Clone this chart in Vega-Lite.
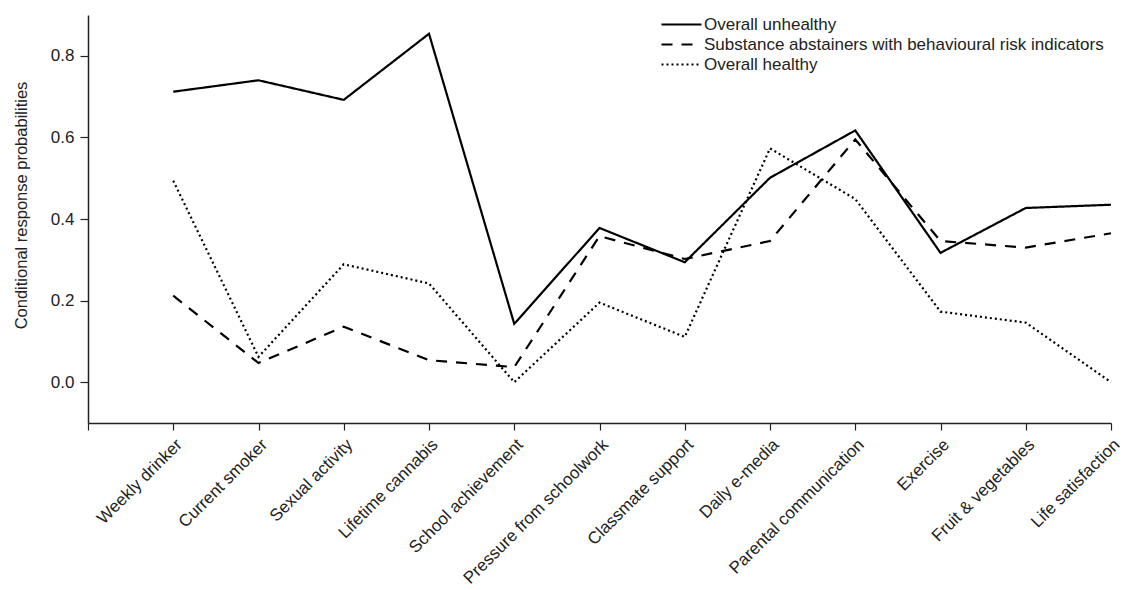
{
  "$schema": "https://vega.github.io/schema/vega-lite/v6.json",
  "autosize": {"type": "none"},
  "width": 1023,
  "height": 408,
  "padding": {"left": 88, "top": 15, "right": 18, "bottom": 167},
  "background": "white",
  "config": {
    "view": {"stroke": null},
    "font": "Liberation Sans",
    "axis": {"grid": false, "domainColor": "#222", "tickColor": "#222", "labelColor": "#222", "titleColor": "#222", "domainWidth": 1.5, "tickWidth": 1.2, "labelFont": "Liberation Sans", "titleFont": "Liberation Sans"}
  },
  "data": {"values": [
    {"item": "Weekly drinker", "cls": "Overall unhealthy", "p": 0.712},
    {"item": "Current smoker", "cls": "Overall unhealthy", "p": 0.740},
    {"item": "Sexual activity", "cls": "Overall unhealthy", "p": 0.692},
    {"item": "Lifetime cannabis", "cls": "Overall unhealthy", "p": 0.854},
    {"item": "School achievement", "cls": "Overall unhealthy", "p": 0.143},
    {"item": "Pressure from schoolwork", "cls": "Overall unhealthy", "p": 0.378},
    {"item": "Classmate support", "cls": "Overall unhealthy", "p": 0.294},
    {"item": "Daily e-media", "cls": "Overall unhealthy", "p": 0.501},
    {"item": "Parental communication", "cls": "Overall unhealthy", "p": 0.617},
    {"item": "Exercise", "cls": "Overall unhealthy", "p": 0.317},
    {"item": "Fruit & vegetables", "cls": "Overall unhealthy", "p": 0.427},
    {"item": "Life satisfaction", "cls": "Overall unhealthy", "p": 0.435},
    {"item": "Weekly drinker", "cls": "Substance abstainers with behavioural risk indicators", "p": 0.212},
    {"item": "Current smoker", "cls": "Substance abstainers with behavioural risk indicators", "p": 0.047},
    {"item": "Sexual activity", "cls": "Substance abstainers with behavioural risk indicators", "p": 0.136},
    {"item": "Lifetime cannabis", "cls": "Substance abstainers with behavioural risk indicators", "p": 0.054},
    {"item": "School achievement", "cls": "Substance abstainers with behavioural risk indicators", "p": 0.037},
    {"item": "Pressure from schoolwork", "cls": "Substance abstainers with behavioural risk indicators", "p": 0.358},
    {"item": "Classmate support", "cls": "Substance abstainers with behavioural risk indicators", "p": 0.302},
    {"item": "Daily e-media", "cls": "Substance abstainers with behavioural risk indicators", "p": 0.346},
    {"item": "Parental communication", "cls": "Substance abstainers with behavioural risk indicators", "p": 0.595},
    {"item": "Exercise", "cls": "Substance abstainers with behavioural risk indicators", "p": 0.346},
    {"item": "Fruit & vegetables", "cls": "Substance abstainers with behavioural risk indicators", "p": 0.330},
    {"item": "Life satisfaction", "cls": "Substance abstainers with behavioural risk indicators", "p": 0.365},
    {"item": "Weekly drinker", "cls": "Overall healthy", "p": 0.494},
    {"item": "Current smoker", "cls": "Overall healthy", "p": 0.062},
    {"item": "Sexual activity", "cls": "Overall healthy", "p": 0.289},
    {"item": "Lifetime cannabis", "cls": "Overall healthy", "p": 0.242},
    {"item": "School achievement", "cls": "Overall healthy", "p": 0.0},
    {"item": "Pressure from schoolwork", "cls": "Overall healthy", "p": 0.195},
    {"item": "Classmate support", "cls": "Overall healthy", "p": 0.111},
    {"item": "Daily e-media", "cls": "Overall healthy", "p": 0.573},
    {"item": "Parental communication", "cls": "Overall healthy", "p": 0.449},
    {"item": "Exercise", "cls": "Overall healthy", "p": 0.173},
    {"item": "Fruit & vegetables", "cls": "Overall healthy", "p": 0.146},
    {"item": "Life satisfaction", "cls": "Overall healthy", "p": 0.0}
  ]},
  "mark": {"type": "line", "color": "black", "strokeWidth": 2.2},
  "encoding": {
    "x": {
      "field": "item", "type": "ordinal",
      "scale": {"type": "point", "padding": 0, "domain": [" ", "Weekly drinker", "Current smoker", "Sexual activity", "Lifetime cannabis", "School achievement", "Pressure from schoolwork", "Classmate support", "Daily e-media", "Parental communication", "Exercise", "Fruit & vegetables", "Life satisfaction"]},
      "sort": null,
      "axis": {"title": null, "labelAngle": -45, "labelAlign": "right", "labelBaseline": "top", "labelFontSize": 17, "labelPadding": 6, "tickSize": 7, "labelOverlap": false, "labelBound": false, "labelLimit": 0}
    },
    "y": {
      "field": "p", "type": "quantitative",
      "scale": {"domain": [-0.1, 0.9], "nice": false, "zero": false},
      "axis": {"title": "Conditional response probabilities", "values": [0, 0.2, 0.4, 0.6, 0.8], "format": ".1f", "labelFontSize": 17, "titleFontSize": 16.5, "titleFontWeight": "normal", "tickSize": 8, "labelPadding": 6, "titleX": -67, "titleY": 190, "titleAngle": -90, "titleAlign": "center", "titleBaseline": "middle"}
    },
    "strokeDash": {
      "field": "cls", "type": "nominal",
      "scale": {"domain": ["Overall unhealthy", "Substance abstainers with behavioural risk indicators", "Overall healthy"], "range": [[1, 0], [11, 9], [2, 3]]},
      "legend": {"title": null, "orient": "none", "legendX": 572, "legendY": -2, "symbolType": "M-1,0H3", "symbolSize": 400, "symbolStrokeWidth": 2.2, "symbolStrokeColor": "black", "labelFontSize": 17, "labelColor": "#222", "rowPadding": 0, "labelOffset": 21, "labelLimit": 0}
    },
    "order": {"value": null}
  }
}
